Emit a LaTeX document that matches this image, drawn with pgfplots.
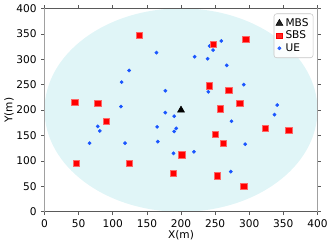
\documentclass[border=0pt]{standalone}
\usepackage{fontspec}
\setmainfont{DejaVu Sans}
\usepackage{pgfplots}
\pgfplotsset{compat=1.18}
\definecolor{ellfill}{RGB}{224,245,247}
\definecolor{ueblue}{RGB}{25,85,255}
\definecolor{spinedark}{RGB}{90,90,90}
\definecolor{spinelight}{RGB}{160,160,160}
\begin{document}
\begin{tikzpicture}
\begin{axis}[
  width=206pt, height=153.5pt, scale only axis,
  xmin=0, xmax=400, ymin=0, ymax=400,
  xtick={0,50,...,400}, ytick={0,50,...,400},
  tick align=outside, major tick length=2.5pt,
  tick style={spinedark, line width=0.5pt},
  axis line style={draw=none},
  font=\fontsize{8}{9.5}\selectfont,
  /pgf/number format/assume math mode=true,
  xlabel={X(m)}, ylabel={Y(m)},
  xlabel style={yshift=5pt},
  ylabel style={yshift=-5pt},
  clip=false,
  legend style={at={(0.985,0.975)}, anchor=north east, draw=spinelight!60, rounded corners=2pt,
    fill=white, fill opacity=0.85, text opacity=1, font=\fontsize{8}{9}\selectfont,
    inner sep=1.5pt, row sep=-2pt},
  legend cell align=left,
]
\fill[ellfill] (axis cs:200,200) ellipse [x radius=200, y radius=200];
\addlegendimage{only marks, mark=triangle*, mark size=3pt, black}
\addlegendentry{MBS}
\addlegendimage{only marks, mark=square*, mark size=2.2pt, red}
\addlegendentry{SBS}
\addlegendimage{only marks, mark=*, mark size=1.2pt, ueblue}
\addlegendentry{UE}
\addplot[only marks, mark=*, mark size=1.2pt, ueblue, forget plot] coordinates {
(164,313) (124,278) (113,255) (177,238) (112,207) (177,195) (259,336) (242,326)
(247,318) (220,305) (239,301) (267,288) (240,236) (292,250) (341,210) (337,191)
(190,188) (274,178) (78,168) (81,159) (66,135) (118,135) (165,167) (166,138)
(193,164) (190,158) (294,133) (189,115) (219,118) (273,79)
};
\addplot[only marks, mark=square*, mark size=2.4pt, red, mark options={draw=red!60!white, line width=0.3pt}, forget plot] coordinates {
(139,347) (44,216) (78,213) (247,330) (295,340) (241,248) (270,239) (286,213)
(257,203) (90,178) (46,96) (124,95) (250,152) (323,165) (358,160) (262,135)
(201,112) (189,76) (253,71) (292,50)
};
\addplot[only marks, mark=triangle*, mark size=3pt, black, forget plot] coordinates {(200,200)};
\draw[spinelight, line width=1.2pt] (rel axis cs:0,0) -- (rel axis cs:0,1);
\draw[spinelight, line width=1.2pt] (rel axis cs:1,0) -- (rel axis cs:1,1);
\draw[spinedark, line width=0.8pt] (rel axis cs:0,0) -- (rel axis cs:1,0);
\draw[spinedark, line width=0.8pt] (rel axis cs:0,1) -- (rel axis cs:1,1);
\end{axis}
\end{tikzpicture}
\end{document}
